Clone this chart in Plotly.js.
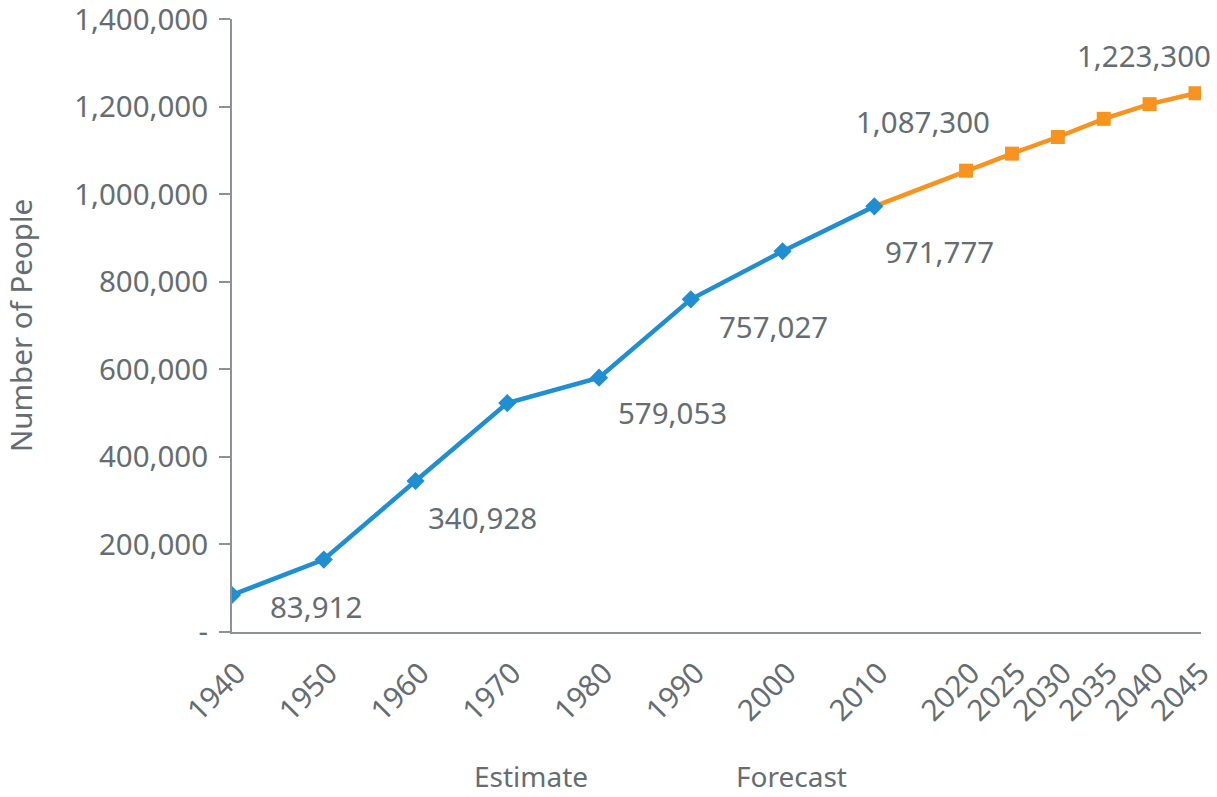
<!DOCTYPE html>
<html>
<head>
<meta charset="utf-8">
<script src="https://cdn.plot.ly/plotly-3.0.1.min.js"></script>
<style>
  html, body { margin: 0; padding: 0; background: #ffffff; }
  #chart { width: 1217px; height: 797px; }
</style>
</head>
<body>
<div id="chart"></div>
<script>
// ---- Data ----
const estimateYears = [1940, 1950, 1960, 1970, 1980, 1990, 2000, 2010];
const estimateValues = [84500, 165500, 345000, 523000, 581000, 760000, 870000, 972500];

const forecastYears = [2010, 2020, 2025, 2030, 2035, 2040, 2045];
const forecastValues = [972500, 1054000, 1093000, 1131000, 1172500, 1206000, 1231000];

const xTickYears = [1940, 1950, 1960, 1970, 1980, 1990, 2000, 2010, 2020, 2025, 2030, 2035, 2040, 2045];
const yTickValues = [0, 200000, 400000, 600000, 800000, 1000000, 1200000, 1400000];
const yTickLabels = ['-', '200,000', '400,000', '600,000', '800,000', '1,000,000', '1,200,000', '1,400,000'];

const labelYears = [1940, 1960, 1980, 1990, 2010, 2025, 2045];
const labelTexts = ['83,912', '340,928', '579,053', '757,027', '971,777', '1,087,300', '1,223,300'];

const sectionTexts = ['Estimate', 'Forecast'];

// ---- Styling / placement (kept separate from the data) ----
const labelOffsets = [[84, 11], [67, 36], [73, 35], [83, 27], [65, 45], [-89, -32], [-51, -38]];
const sectionPositions = [0.3086, 0.577];

const FONT = 'Noto Sans, Open Sans, sans-serif';
const TXT = '#656d72';
const AX = '#8c9297';
const BLUE = '#1f8fd1';
const ORANGE = '#f7931e';
const NUMSIZE = 29.5;

const allYears = estimateYears.concat(forecastYears);
const allValues = estimateValues.concat(forecastValues);
function valueAt(yr) { return allValues[allYears.indexOf(yr)]; }

const traces = [
  {
    x: forecastYears, y: forecastValues, type: 'scatter', mode: 'lines+markers',
    line: { color: ORANGE, width: 4.5 },
    marker: { symbol: 'square', color: ORANGE, opacity: 1, line: { width: 0 },
              size: forecastYears.map((y, i) => i === 0 ? 0 : 14) },
    hoverinfo: 'x+y', showlegend: false
  },
  {
    x: estimateYears, y: estimateValues, type: 'scatter', mode: 'lines+markers',
    line: { color: BLUE, width: 4.5 },
    marker: { symbol: 'diamond', color: BLUE, opacity: 1, line: { width: 0 }, size: 14 },
    hoverinfo: 'x+y', showlegend: false
  }
];

const annotations = labelYears.map((yr, i) => ({
  x: yr, y: valueAt(yr), xref: 'x', yref: 'y',
  text: labelTexts[i], showarrow: false,
  xanchor: 'center', yanchor: 'middle',
  xshift: labelOffsets[i][0], yshift: -labelOffsets[i][1],
  font: { family: FONT, size: NUMSIZE, color: TXT }
})).concat(sectionTexts.map((t, i) => ({
  x: sectionPositions[i], y: -0.235, xref: 'paper', yref: 'paper',
  text: t, showarrow: false, xanchor: 'center', yanchor: 'middle',
  font: { family: FONT, size: 28, color: TXT }
})));

const layout = {
  width: 1217, height: 797,
  margin: { l: 232, r: 16, t: 19, b: 165 },
  paper_bgcolor: '#ffffff', plot_bgcolor: '#ffffff',
  font: { family: FONT, size: 28, color: TXT },
  showlegend: false,
  xaxis: {
    range: [1940, 2045.6],
    tickmode: 'array', tickvals: xTickYears, ticktext: xTickYears.map(String),
    tickangle: -45, ticks: '',
    ticklabelstandoff: 10, ticklabelshift: 5, ticklabeloverflow: 'allow',
    showline: true, linecolor: AX, linewidth: 2,
    showgrid: false, zeroline: false,
    tickfont: { family: FONT, size: NUMSIZE, color: TXT }
  },
  xaxis2: {
    range: [1940, 2045.6], overlaying: 'x', anchor: 'y', side: 'bottom',
    tick0: 1940, dtick: 10, ticks: 'outside', ticklen: 11, tickwidth: 2, tickcolor: AX,
    showticklabels: false, showline: false, showgrid: false, zeroline: false
  },
  yaxis: {
    range: [0, 1400600],
    tickmode: 'array', tickvals: yTickValues, ticktext: yTickLabels,
    ticks: 'outside', ticklen: 11, tickwidth: 2, tickcolor: AX,
    ticklabelstandoff: 5, ticklabeloverflow: 'allow',
    showline: true, linecolor: AX, linewidth: 2,
    showgrid: false, zeroline: false,
    tickfont: { family: FONT, size: NUMSIZE, color: TXT },
    title: { text: 'Number of People', font: { family: FONT, size: 29.5, color: TXT }, standoff: 33 }
  },
  annotations: annotations
};

Plotly.newPlot('chart', traces, layout, { displayModeBar: false, staticPlot: true });
</script>
</body>
</html>
